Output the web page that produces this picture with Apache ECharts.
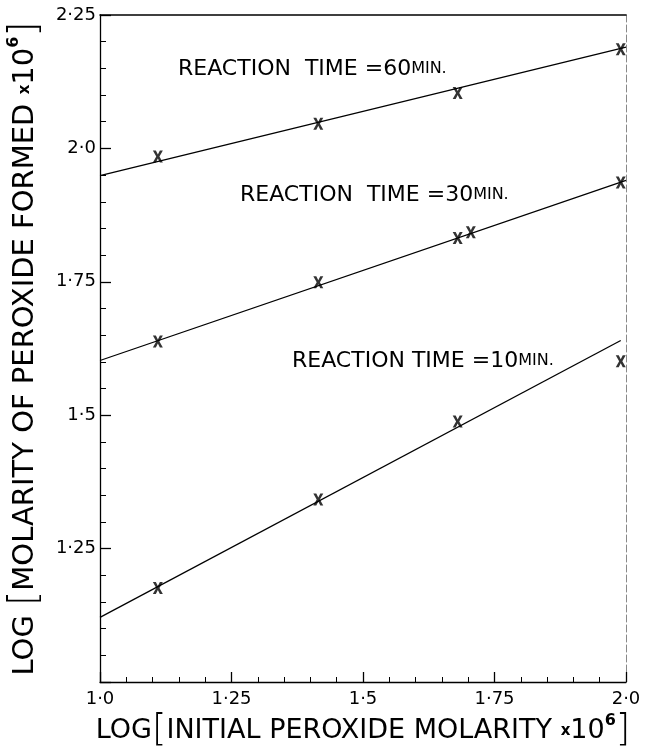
<!DOCTYPE html>
<html>
<head>
<meta charset="utf-8">
<script src="https://cdn.jsdelivr.net/npm/echarts@6/dist/echarts.min.js"></script>
<style>
html,body{margin:0;padding:0;background:#fff;}
#chart{width:649px;height:749px;}
</style>
</head>
<body>
<div id="chart"></div>
<script>
// ---- data ----
const xTicks = [1.0, 1.25, 1.5, 1.75, 2.0];
const xTickLabels = ['1·0', '1·25', '1·5', '1·75', '2·0'];
const yTicks = [1.25, 1.5, 1.75, 2.0, 2.25];
const yTickLabels = ['1·25', '1·5', '1·75', '2·0', '2·25'];

const x60 = [1.11, 1.415, 1.68, 1.99];
const y60 = [1.985, 2.046, 2.104, 2.186];
const x30 = [1.11, 1.415, 1.68, 1.705, 1.99];
const y30 = [1.638, 1.749, 1.832, 1.843, 1.936];
const x10 = [1.11, 1.415, 1.68, 1.99];
const y10 = [1.176, 1.342, 1.488, 1.601];

const fitX60 = [1.0, 2.0];
const fitY60 = [1.949, 2.19];
const fitX30 = [1.0, 2.0];
const fitY30 = [1.6025, 1.94];
const fitX10 = [1.0, 1.99];
const fitY10 = [1.121, 1.64];

const labels = ['60', '30', '10'];

// ---- chart ----
const FONT = 'DejaVu Sans';
const pair = (xs, ys) => xs.map((x, i) => [x, ys[i]]);
const X_PATH = 'path://M0,0 L3,0 L5,4 L7,0 L10,0 L6.6,6 L10,12 L7,12 L5,8 L3,12 L0,12 L3.4,6 Z';

function lab(list, labelsArr, v) {
  const i = list.findIndex(t => Math.abs(t - v) < 1e-9);
  return i >= 0 ? labelsArr[i] : '';
}

function scatter(xs, ys) {
  return {
    type: 'scatter', data: pair(xs, ys), symbol: X_PATH, symbolSize: [10, 12],
    itemStyle: { color: '#000' }, z: 5
  };
}
function fit(xs, ys) {
  return {
    type: 'line', data: pair(xs, ys), symbol: 'none',
    lineStyle: { color: '#000', width: 1.3 }, z: 4
  };
}

function titleRich(size) {
  return {
    n: { fontFamily: FONT, fontSize: size, color: '#000' },
    br: { fontFamily: FONT, fontSize: size + 10, color: '#000', fontWeight: 'lighter' },
    x: { fontFamily: FONT, fontSize: 15, color: '#000', fontWeight: 'bold' },
    sup: { fontFamily: FONT, fontSize: 16, color: '#000', fontWeight: 'bold', verticalAlign: 'top', padding: [0, 0, 14, 0] }
  };
}

const annRich = {
  a: { fontFamily: FONT, fontSize: 22, fill: '#000' },
  b: { fontFamily: FONT, fontSize: 16, fill: '#000' }
};

const chart = echarts.init(document.getElementById('chart'), null, { renderer: 'canvas' });
chart.setOption({
  animation: false,
  backgroundColor: '#fff',
  grid: { left: 100, right: 23, top: 15, bottom: 67, containLabel: false, outerBoundsMode: 'none' },
  xAxis: [{
    type: 'value', min: 1.0, max: 2.0, interval: 0.25,
    axisLine: { lineStyle: { color: '#000', width: 1.3 } },
    axisTick: { inside: true, length: 10, lineStyle: { color: '#000', width: 1.3 } },
    minorTick: { show: true, splitNumber: 5, length: 5, lineStyle: { color: '#000', width: 1 } },
    splitLine: { show: false },
    axisLabel: { fontFamily: FONT, fontSize: 18, color: '#000', margin: 8,
      formatter: v => lab(xTicks, xTickLabels, v) },
    name: '{n|LOG}{br|[}{n|INITIAL PEROXIDE MOLARITY }{x|x}{n|10}{sup|6}{br|]}',
    nameLocation: 'middle', nameGap: 26,
    nameTextStyle: { rich: titleRich(27) }
  }, {
    type: 'value', min: 1.0, max: 2.0, position: 'top',
    axisLine: { show: true, lineStyle: { color: '#000', width: 1.5 } },
    axisTick: { show: false }, axisLabel: { show: false }, splitLine: { show: false }
  }],
  yAxis: [{
    type: 'value', min: 1.0, max: 2.25, interval: 0.25,
    axisLine: { lineStyle: { color: '#000', width: 1.3 } },
    axisTick: { inside: true, length: 11, lineStyle: { color: '#000', width: 1.3 } },
    minorTick: { show: true, splitNumber: 5, length: 6, lineStyle: { color: '#000', width: 1 } },
    splitLine: { show: false },
    axisLabel: { fontFamily: FONT, fontSize: 18, color: '#000', margin: 4,
      formatter: v => lab(yTicks, yTickLabels, v) },
    name: '{n|LOG }{br|[}{n|MOLARITY OF PEROXIDE FORMED }{x|x}{n|10}{sup|6}{br|]}',
    nameLocation: 'middle', nameGap: 55, nameRotate: 90,
    nameTextStyle: { rich: titleRich(29) }
  }, {
    type: 'value', min: 1.0, max: 2.25, position: 'right',
    axisLine: { show: true, lineStyle: { color: '#888', width: 1, type: [7, 3] } },
    axisTick: { show: false }, axisLabel: { show: false }, splitLine: { show: false }
  }],
  series: [
    fit(fitX60, fitY60), scatter(x60, y60),
    fit(fitX30, fitY30), scatter(x30, y30),
    fit(fitX10, fitY10), scatter(x10, y10)
  ],
  graphic: [
    { type: 'text', left: 178, top: 58, style: { text: '{a|REACTION  TIME =' + labels[0] + '}{b|MIN.}', rich: annRich } },
    { type: 'text', left: 240, top: 184, style: { text: '{a|REACTION  TIME =' + labels[1] + '}{b|MIN.}', rich: annRich } },
    { type: 'text', left: 292, top: 350, style: { text: '{a|REACTION TIME =' + labels[2] + '}{b|MIN.}', rich: annRich } }
  ]
});
</script>
</body>
</html>
